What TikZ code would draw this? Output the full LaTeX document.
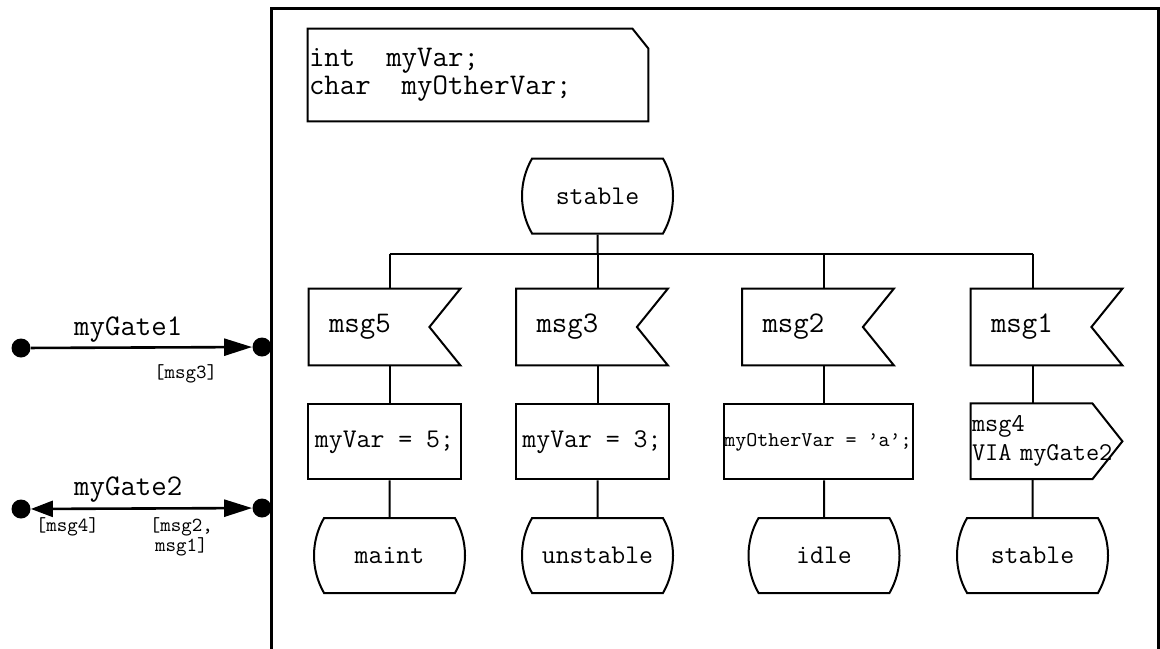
\documentclass[tikz,border=0pt]{standalone}
\usepackage{fontspec}
\usepackage{tikz}
\usetikzlibrary{positioning}
\usetikzlibrary{calc}
\usetikzlibrary{arrows.meta}
\usetikzlibrary{shapes.misc}

\tikzset{
    sdlline/.style={line width=1pt},
    bigtext/.style={font=\ttfamily\fontsize{15pt}{14pt}\selectfont},
    midtext/.style={font=\ttfamily\fontsize{13.5pt}{15pt}\selectfont},
    smalltext/.style={font=\ttfamily\fontsize{10pt}{10pt}\selectfont},
    declbox/.style={rectangle, minimum width=170pt, minimum height=46pt,
        inner xsep=0.5pt, inner ysep=0pt, text width=169pt, align=left, bigtext,
        append after command={\pgfextra{
            \draw[sdlline] (\tikzlastnode.north west) -- ([xshift=-8pt]\tikzlastnode.north east)
                -- ([yshift=-10pt]\tikzlastnode.north east) -- (\tikzlastnode.south east)
                -- (\tikzlastnode.south west) -- cycle;}}},
    statebox/.style={sdlline, draw, rounded rectangle, rounded rectangle arc length=60,
        minimum width=75.5pt, minimum height=37.5pt, inner sep=0pt, midtext},
    taskbox/.style={sdlline, draw, rectangle, minimum width=76.5pt, minimum height=37.5pt,
        inner sep=0pt, midtext},
    inputbox/.style={rectangle, minimum width=75.5pt, minimum height=38pt,
        inner xsep=10pt, inner ysep=0pt, text width=55.5pt, align=left, bigtext,
        append after command={\pgfextra{
            \draw[sdlline] (\tikzlastnode.north west) -- (\tikzlastnode.north east)
                -- ([xshift=-15.5pt]\tikzlastnode.east) -- (\tikzlastnode.south east)
                -- (\tikzlastnode.south west) -- cycle;}}},
    outputbox/.style={rectangle, minimum width=75.5pt, minimum height=37.5pt,
        inner xsep=0.5pt, inner ysep=0pt, text width=74.5pt, align=left,
        font=\ttfamily\fontsize{12.8pt}{14.5pt}\selectfont,
        append after command={\pgfextra{
            \draw[sdlline] (\tikzlastnode.north west) -- ([xshift=-15pt]\tikzlastnode.north east)
                -- (\tikzlastnode.east) -- ([xshift=-15pt]\tikzlastnode.south east)
                -- (\tikzlastnode.south west) -- cycle;}}},
    gatedot/.style={circle, fill, inner sep=0pt, minimum size=9.5pt},
    gateline/.style={line width=1.3pt},
}

\begin{document}
\begin{tikzpicture}[x=0.5pt, y=-0.5pt]
    \useasboundingbox (0,0) rectangle (1160,648);

    % declarations and start state
    \node[declbox] (decl) at (478,75) {int\phantom{xx}myVar;\\char\phantom{xx}myOtherVar;};
    \node[statebox] (start) at (597.5,196) {stable};
    \coordinate[below=9.5pt of start] (bus);

    % inputs
    \node[inputbox] (in5) at (384.5,327) {msg5};
    \node[inputbox] (in3) at (592,327) {msg3};
    \node[inputbox] (in2) at (818,327) {msg2};
    \node[inputbox] (in1) at (1046.5,327) {msg1};

    % tasks and output
    \node[taskbox, below=19pt of in5] (task5) {myVar = 5;};
    \node[taskbox, below=19pt of in3] (task3) {myVar = 3;};
    \node[taskbox, minimum width=94.5pt, font=\ttfamily\fontsize{10.5pt}{11pt}\selectfont,
        below=19pt of in2] (task2) {myOtherVar = ’a’;};
    \node[outputbox, below=19pt of in1] (out4) {msg4\\VIA myGate2};

    % next states
    \node[statebox] (st5) at (389.5,555.5) {maint};
    \node[statebox] (st3) at (597.5,555.5) {unstable};
    \node[statebox] (st2) at (824,555.5) {idle};
    \node[statebox] (st1) at (1032.5,555.5) {stable};

    \draw[sdlline] (start) -- (bus);
    \draw[sdlline] (bus -| st5) -- (bus -| st1);
    \foreach \i/\t/\s in {in5/task5/st5, in3/task3/st3, in2/task2/st2, in1/out4/st1}{
        \draw[sdlline] (bus -| \s) -- (\i.north -| \s);
        \draw[sdlline] (\i.south -| \s) -- (\t.north -| \s);
        \draw[sdlline] (\t.south -| \s) -- (\s);
    }

    % gates
    \node[gatedot] (g1a) at (21,348) {};
    \node[gatedot] (g1b) at (262,347) {};
    \node[gatedot] (g2a) at (21,509) {};
    \node[gatedot] (g2b) at (262,508) {};

    \draw[gateline, -{Triangle[length=14pt, width=8.5pt]}] (g1a) -- (g1b)
        node[bigtext, pos=0.44, yshift=9pt] {myGate1}
        node[smalltext, pos=0.70, yshift=-13.5pt] {[msg3]};
    \draw[gateline, {Triangle[length=11pt, width=8pt]}-{Triangle[length=14pt, width=8.5pt]}] (g2a) -- (g2b)
        node[bigtext, pos=0.44, yshift=9.5pt] {myGate2}
        node[smalltext, pos=0.165, yshift=-9pt] {[msg4]}
        node[smalltext, align=center, pos=0.68, yshift=-14.5pt] {[msg2,\\msg1]};

    % frame
    \draw[line width=1.5pt] (271,660) |- (1158,8) -- (1158,660);
\end{tikzpicture}
\end{document}
